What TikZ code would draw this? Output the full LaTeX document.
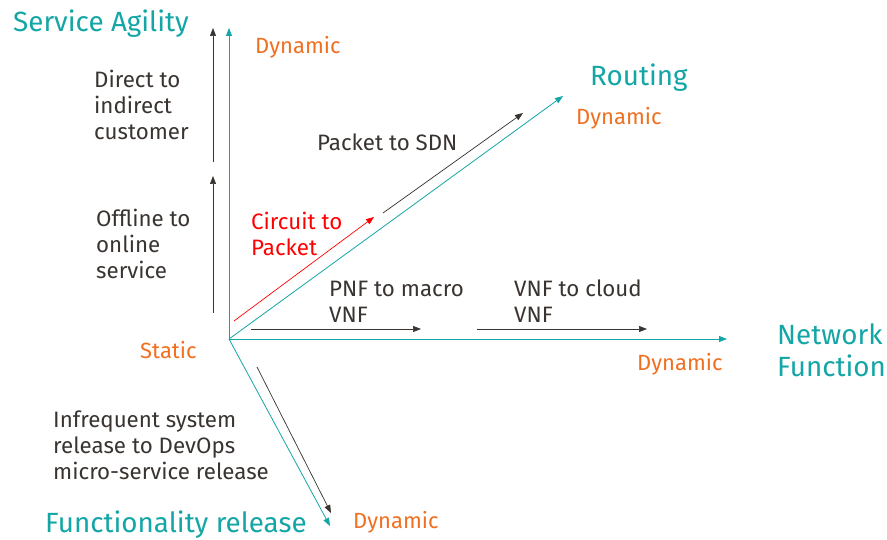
\documentclass[tikz,border=0pt]{standalone}
\usepackage{fontspec}
\setmainfont{Fira Sans}
\usetikzlibrary{arrows.meta}
\definecolor{teal1}{HTML}{14A6A6}
\definecolor{orng}{HTML}{F07021}
\definecolor{dark}{HTML}{3A3431}
\tikzset{
  body/.style={inner sep=0pt, text=dark, font=\fontsize{22.3}{26}\selectfont, align=left},
  title/.style={inner sep=0pt, text=teal1, font=\fontsize{27.8}{32}\selectfont, align=left},
  dyn/.style={inner sep=0pt, text=orng, font=\fontsize{22}{26}\selectfont},
  axisarrow/.style={draw=teal1, line width=0.8pt, -{Triangle[length=8pt,width=6pt]}},
  shiftarrow/.style={draw=dark, line width=0.7pt, -{Triangle[length=8pt,width=6pt]}},
  redarrow/.style={draw=red, line width=0.7pt, -{Triangle[length=8pt,width=6pt]}},
}
\begin{document}
\begin{tikzpicture}[x=1pt,y=-1pt]
\useasboundingbox[fill=white] (0,0) rectangle (887,540);
% axes coordinates
\coordinate (O) at (229,339);
\coordinate (Vtop) at (229,28);
\coordinate (Rtop) at (563,96);
\coordinate (Hend) at (727,339);
\coordinate (Dend) at (330,526);
\draw[axisarrow] (O) -- (Vtop);
\draw[axisarrow] (O) -- (Rtop);
\draw[axisarrow] (O) -- (Hend);
\draw[axisarrow] (O) -- (Dend);
% shift arrows
\coordinate (v1a) at (213,313);
\coordinate (v1b) at (213,176);
\coordinate (v2a) at (213,162);
\coordinate (v2b) at (213,28);
\draw[shiftarrow] (v1a) -- (v1b);
\draw[shiftarrow] (v2a) -- (v2b);
\coordinate (r1a) at (234,321);
\coordinate (r1b) at (374,217);
\coordinate (r2a) at (383,213);
\coordinate (r2b) at (523,113);
\draw[redarrow] (r1a) -- (r1b);
\draw[shiftarrow] (r2a) -- (r2b);
\coordinate (h1a) at (251,329);
\coordinate (h1b) at (421,329);
\coordinate (h2a) at (477,329);
\coordinate (h2b) at (647,329);
\draw[shiftarrow] (h1a) -- (h1b);
\draw[shiftarrow] (h2a) -- (h2b);
\coordinate (d1a) at (257,367);
\coordinate (d1b) at (331,513);
\draw[shiftarrow] (d1a) -- (d1b);
% titles
\node[title, anchor=west] (tSA) at (13,24) {Service Agility};
\node[title, anchor=west] (tR) at (590,78) {Routing};
\node[title, anchor=west] (tNF) at (777,350) {Network\\Function};
\node[title, anchor=west] (tFR) at (45,524.5) {Functionality release};
% dynamic / static
\node[dyn, anchor=west] (dy1) at (255,47) {Dynamic};
\node[dyn, anchor=west] (dy2) at (576,118) {Dynamic};
\node[dyn, anchor=west] (dy3) at (637,364) {Dynamic};
\node[dyn, anchor=west] (dy4) at (353,522) {Dynamic};
\node[dyn, anchor=west] (st) at (140,350) {Static};
% labels
\node[body, anchor=west] (l1) at (94,104.5) {Direct to\\indirect\\customer};
\node[body, anchor=west] (l2) at (96,243.5) {Offline to\\online\\service};
\node[body, anchor=west] (l3) at (317,142) {Packet to SDN};
\node[body, anchor=west, text=red] (l4) at (251,234) {Circuit to\\Packet};
\node[body, anchor=west] (l5) at (329,301.5) {PNF to macro\\VNF};
\node[body, anchor=west] (l6) at (514,301.5) {VNF to cloud\\VNF};
\node[body, anchor=west] (l7) at (53,445) {Infrequent system\\release to DevOps\\micro-service release};
\end{tikzpicture}
\end{document}
